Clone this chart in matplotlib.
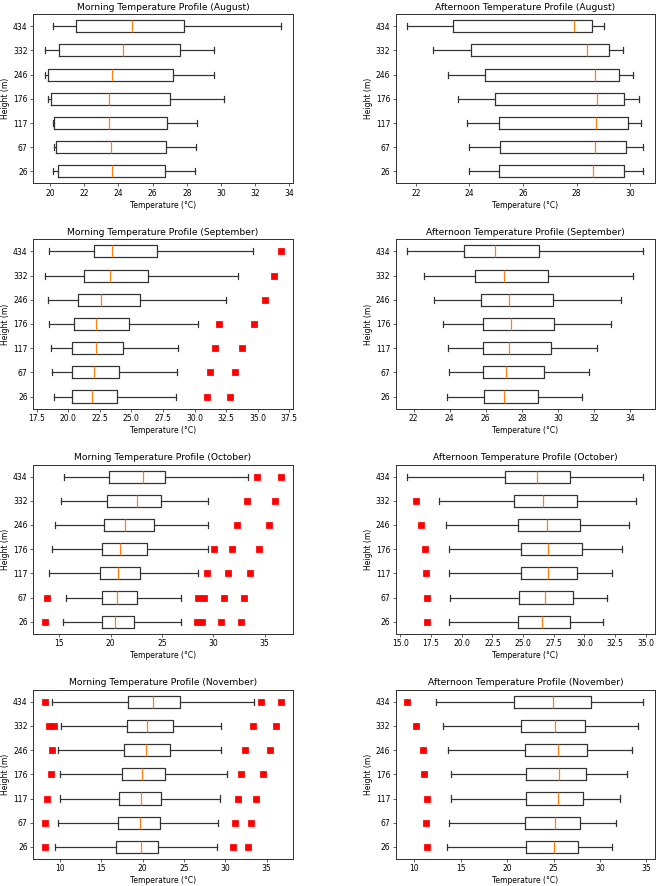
import matplotlib
matplotlib.use("Agg")
import matplotlib.pyplot as plt

heights = [26, 67, 117, 176, 246, 332, 434]
months = ["August", "September", "October", "November"]

# five-number summaries per height (whislo, q1, median, q3, whishi), bottom to top
aug_am = [(20.15, 20.45, 23.6, 26.75, 28.5), (20.25, 20.35, 23.55, 26.8, 28.55),
          (20.15, 20.25, 23.45, 26.85, 28.6), (19.9, 20.05, 23.45, 27.0, 30.2),
          (19.7, 19.9, 23.65, 27.2, 29.6), (19.7, 20.5, 24.25, 27.6, 29.6),
          (20.15, 21.5, 24.8, 27.85, 33.5)]
aug_am_out = [[], [], [], [], [], [], []]

aug_pm = [(23.99, 25.09, 28.6, 29.77, 30.5), (23.99, 25.13, 28.68, 29.86, 30.5),
          (23.89, 25.09, 28.73, 29.92, 30.4), (23.58, 24.95, 28.75, 29.77, 30.33),
          (23.18, 24.57, 28.68, 29.6, 30.1), (22.63, 24.05, 28.4, 29.2, 29.73),
          (21.68, 23.4, 27.92, 28.57, 29.03)]
aug_pm_out = [[], [], [], [], [], [], []]

sep_am = [(18.85, 20.27, 21.89, 23.83, 28.52), (18.75, 20.32, 22.02, 23.99, 28.57),
          (18.64, 20.27, 22.21, 24.31, 28.68), (18.49, 20.45, 22.21, 24.78, 30.25),
          (18.38, 20.79, 22.6, 25.66, 32.48), (18.15, 21.26, 23.28, 26.35, 33.42),
          (18.49, 22.02, 23.46, 27.05, 34.65)]
sep_am_out = [[30.96, 32.77], [31.22, 33.16], [31.59, 33.76], [31.95, 34.68],
              [35.57], [36.25], [36.83]]

sep_pm = [(23.83, 25.91, 26.99, 28.88, 31.36), (23.96, 25.87, 27.12, 29.21, 31.72),
          (23.89, 25.87, 27.28, 29.61, 32.18), (23.6, 25.87, 27.41, 29.8, 32.97),
          (23.12, 25.71, 27.27, 29.74, 33.5), (22.6, 25.43, 26.99, 29.43, 34.15),
          (21.65, 24.81, 26.5, 28.97, 34.75)]
sep_pm_out = [[], [], [], [], [], [], []]

oct_am = [(15.32, 19.2, 20.45, 22.3, 26.85), (15.7, 19.13, 20.6, 22.55, 26.85),
          (14.0, 19.0, 20.74, 22.9, 28.55), (14.26, 19.13, 20.94, 23.52, 29.5),
          (14.6, 19.4, 21.45, 24.2, 29.5), (15.13, 19.65, 22.55, 24.9, 29.5),
          (15.45, 19.84, 23.13, 25.32, 33.39)]
oct_am_out = [[13.6, 28.45, 28.9, 30.8, 32.7], [13.8, 28.5, 29.1, 31.1, 33.05],
              [29.35, 31.45, 33.6], [30.1, 31.8, 34.5], [32.3, 35.4],
              [33.3, 36.0], [34.26, 36.6]]

oct_pm = [(18.95, 24.6, 26.57, 28.86, 31.49), (19.05, 24.7, 26.8, 29.1, 31.8),
          (18.97, 24.8, 27.0, 29.4, 32.27), (18.95, 24.86, 27.0, 29.8, 33.1),
          (18.7, 24.6, 26.95, 29.6, 33.6), (18.16, 24.22, 26.59, 29.43, 34.24),
          (15.57, 23.51, 26.1, 28.84, 34.81)]
oct_pm_out = [[17.2], [17.16], [17.1], [16.97], [16.7], [16.27], []]

nov_am = [(9.48, 16.8, 19.8, 21.92, 28.96), (9.84, 17.04, 19.72, 22.08, 29.12),
          (10.0, 17.2, 19.8, 22.24, 29.4), (10.0, 17.52, 19.92, 22.72, 30.2),
          (9.8, 17.8, 20.4, 23.28, 29.52), (10.16, 18.12, 20.48, 23.72, 29.52),
          (9.12, 18.2, 21.28, 24.48, 33.52)]
nov_am_out = [[8.24, 30.92, 32.8], [8.24, 31.2, 33.08], [8.44, 31.48, 33.68],
              [9.0, 31.88, 34.6], [9.08, 32.4, 35.44], [8.7, 9.3, 33.32, 36.08],
              [8.2, 34.32, 36.72]]

nov_pm = [(13.54, 21.99, 25.03, 27.67, 31.25), (13.72, 21.95, 25.2, 27.89, 31.72),
          (14.0, 22.06, 25.46, 28.14, 32.18), (14.0, 22.06, 25.64, 28.5, 32.97),
          (13.58, 21.95, 25.46, 28.6, 33.5), (13.04, 21.52, 25.17, 28.43, 34.15),
          (12.33, 20.73, 24.9, 29.0, 34.69)]
nov_pm_out = [[11.4], [11.22], [11.32], [11.07], [10.97], [10.21], [9.25]]

morning = [(aug_am, aug_am_out), (sep_am, sep_am_out), (oct_am, oct_am_out), (nov_am, nov_am_out)]
afternoon = [(aug_pm, aug_pm_out), (sep_pm, sep_pm_out), (oct_pm, oct_pm_out), (nov_pm, nov_pm_out)]


def make_stats(summary, outliers):
    stats = []
    for h, (lo, q1, med, q3, hi), fl in zip(heights, summary, outliers):
        stats.append(dict(label=str(h), whislo=lo, q1=q1, med=med, q3=q3, whishi=hi, fliers=fl))
    return stats


fig, axes = plt.subplots(4, 2, figsize=(12, 16.08), dpi=55.1)
lw = 1.6
line_style = dict(color="#333333", linewidth=lw)
flier_style = dict(marker="s", markerfacecolor="red", markeredgecolor="red", markersize=8)

for row, month in enumerate(months):
    for col, (name, data) in enumerate([("Morning", morning), ("Afternoon", afternoon)]):
        ax = axes[row, col]
        summary, outliers = data[row]
        ax.bxp(make_stats(summary, outliers), orientation="horizontal", flierprops=flier_style,
               boxprops=line_style, whiskerprops=line_style, capprops=line_style,
               medianprops=dict(color="C1", linewidth=lw))
        ax.set_title("%s Temperature Profile (%s)" % (name, month))
        ax.set_xlabel("Temperature (°C)")
        ax.set_ylabel("Height (m)")
        for s in ax.spines.values():
            s.set_linewidth(1.3)
            s.set_color("#333333")

fig.subplots_adjust(left=0.05, right=0.991, top=0.984, bottom=0.0305, wspace=0.396, hspace=0.33)
fig.savefig("out.png", dpi=55.1)
